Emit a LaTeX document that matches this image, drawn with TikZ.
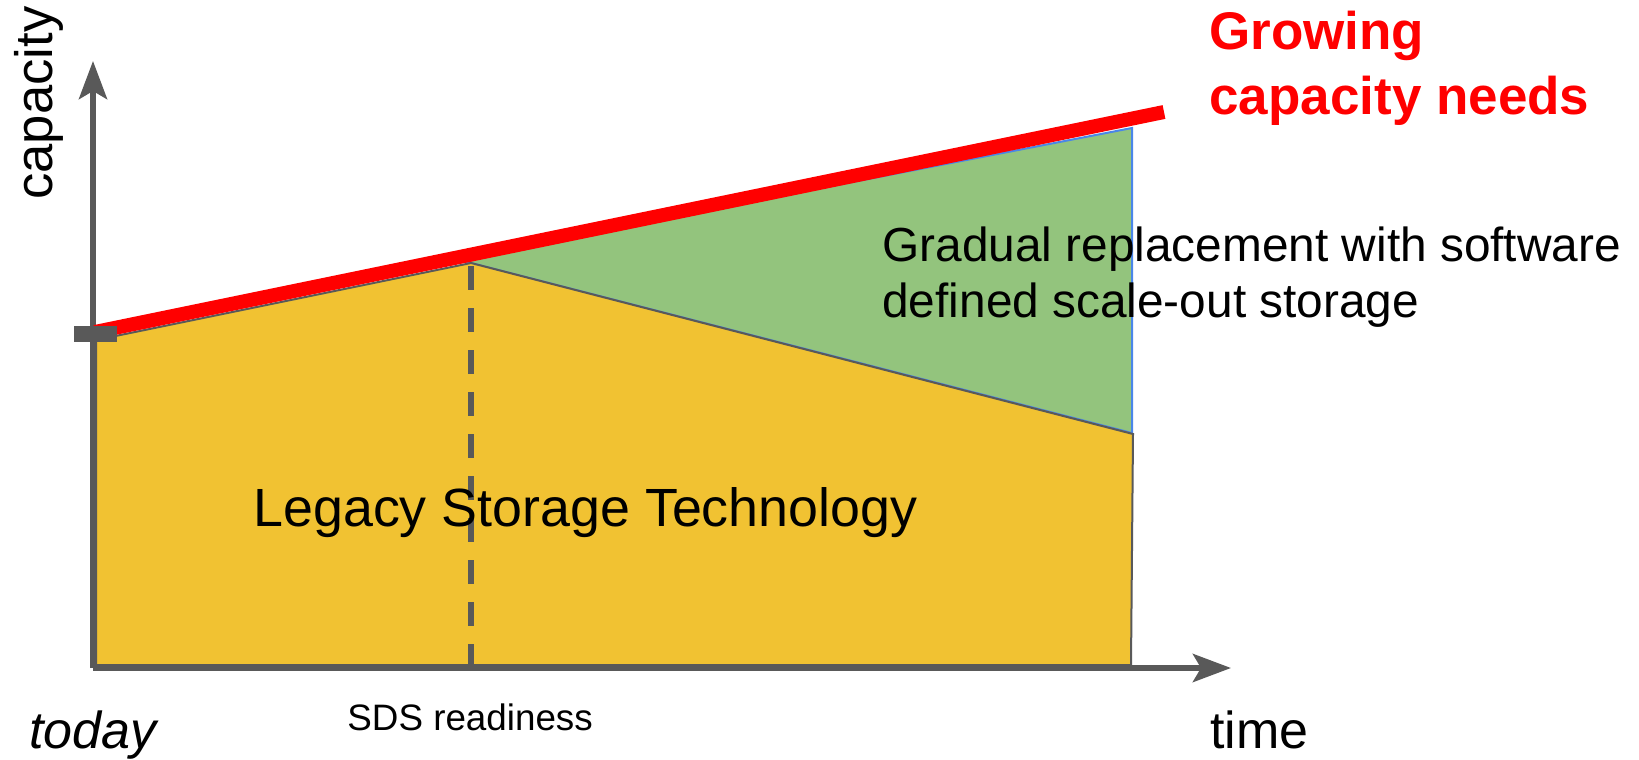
\documentclass[tikz,border=0pt]{standalone}
\usepackage{fontspec}
\setmainfont{Liberation Sans}
\usetikzlibrary{arrows.meta}
\definecolor{legacyyellow}{HTML}{F1C232}
\definecolor{sdsgreen}{HTML}{93C47D}
\definecolor{axisgray}{HTML}{595959}
\definecolor{edgeblue}{HTML}{4A86E8}
\tikzstyle{axis} = [draw=axisgray, line width=3pt,
                    -{Stealth[length=19pt, width=14pt, inset=4pt]}]
\tikzstyle{legacy} = [fill=legacyyellow, draw=axisgray, line width=1pt]
\tikzstyle{sds} = [fill=sdsgreen, draw=edgeblue, line width=1pt]
\tikzstyle{need} = [draw=red, line width=7pt]
\tikzstyle{txt} = [inner sep=0pt, anchor=base west, align=left]

\begin{document}
\begin{tikzpicture}[x=0.5pt, y=-0.5pt]
  \useasboundingbox (0,0) rectangle (1639,760);
  \coordinate (origin) at (93,668);
  \coordinate (ytop) at (93,61);
  \coordinate (xend) at (1231,668);
  \coordinate (today) at (96,340);
  \coordinate (ready) at (471,263);
  \coordinate (ready-top) at (471,266);
  \coordinate (ready-low) at (471,667);

  \draw[sds] (449,260) -- (ready) -- (1132,433) -- (1132,128) -- cycle;
  \draw[legacy] (96,665) -- (today) -- (ready) -- (1133,434)
    -- (1131,665) -- cycle;
  \draw[axisgray, line width=3pt, dash pattern=on 12pt off 9pt]
    (ready-top) -- (ready-low);
  \draw[axis] (origin) -- (ytop);
  \draw[axis] (origin) -- (xend);
  \draw[need] (95,332) -- (1164,112);
  \fill[axisgray] (74,326) rectangle (117,342);

  \node[txt, text=red, font=\fontsize{26.5}{32.5}\selectfont\bfseries]
    (growing) at (1209,114) {Growing\\capacity needs};
  \node[txt, rotate=90, font=\fontsize{26.3}{30}\selectfont]
    (capacity) at (52,200) {capacity};
  \node[txt, font=\fontsize{23.9}{28}\selectfont]
    (gradual) at (882,317) {Gradual replacement with software\\defined scale-out storage};
  \node[txt, font=\fontsize{26.9}{30}\selectfont]
    (legacy-text) at (253,526) {Legacy Storage Technology};
  \node[txt, font=\fontsize{18.4}{22}\selectfont]
    (sds-text) at (347,730) {SDS readiness};
  \node[txt, font=\fontsize{26}{30}\selectfont\itshape]
    (today-text) at (29,748) {today};
  \node[txt, font=\fontsize{26}{30}\selectfont]
    (time) at (1210,748) {time};
\end{tikzpicture}
\end{document}
